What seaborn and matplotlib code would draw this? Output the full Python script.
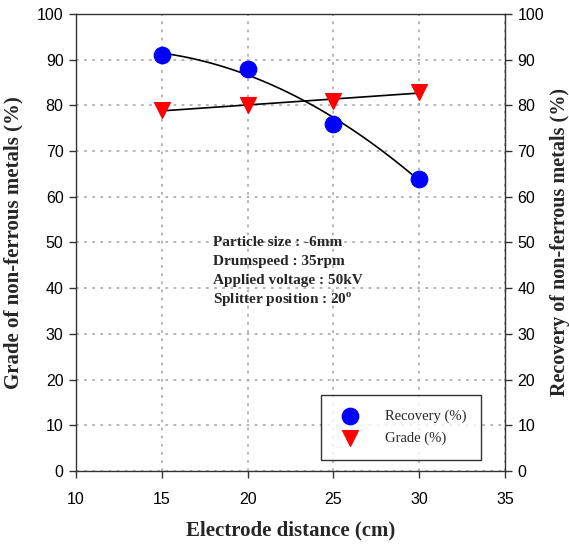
import numpy as np
import pandas as pd
import matplotlib
matplotlib.use("Agg")
import matplotlib.pyplot as plt
import seaborn as sns

distance = [15, 20, 25, 30]
recovery = [91, 88, 76, 64]
grade = [79, 80, 81, 83]
x_ticks = [10, 15, 20, 25, 30, 35]
y_ticks = [0, 10, 20, 30, 40, 50, 60, 70, 80, 90, 100]
conditions = ["Particle size : -6mm", "Drumspeed : 35rpm",
              "Applied voltage : 50kV", "Splitter position : 20$^{\\mathregular{o}}$"]

sns.set_theme(style="white")
plt.rcParams['font.family'] = ['Liberation Sans', 'DejaVu Sans']

df = pd.DataFrame({"distance": distance, "recovery": recovery, "grade": grade})

fig = plt.figure(figsize=(5.69, 5.45), dpi=100)
ax = fig.add_axes([0.1336, 0.1358, 0.8875 - 0.1336, 0.9743 - 0.1358])

# fitted curves
xs = np.linspace(15, 30, 100)
rec_fit = np.polyval(np.polyfit(distance, recovery, 2), xs)
gr_fit = np.polyval(np.polyfit(distance, grade, 1), xs)
sns.lineplot(x=xs, y=rec_fit, ax=ax, color="black", lw=1.2, zorder=2)
sns.lineplot(x=xs, y=gr_fit, ax=ax, color="black", lw=1.2, zorder=2)

sns.scatterplot(data=df, x="distance", y="recovery", ax=ax, marker="o", s=140,
                color="#0000ff", edgecolor="#0000ff", zorder=3, label="Recovery (%)")
sns.scatterplot(data=df, x="distance", y="grade", ax=ax, marker="v", s=130,
                color="#ff0000", edgecolor="#ff0000", zorder=3, label="Grade (%)")

ax.set_xlim(10, 35)
ax.set_ylim(0, 100)
ax.set_xticks(x_ticks)
ax.set_yticks(y_ticks)
ax.grid(True, color="#b0b0b0", linestyle=(0, (1.5, 3)), lw=1.3)
for sp in ax.spines.values():
    sp.set_color("#333333")
    sp.set_linewidth(1.0)
ax.tick_params(axis="both", direction="out", length=5, width=1, colors="#333333",
               labelcolor="black", labelsize=11.5, left=True, bottom=True)
ax.tick_params(axis="x", pad=10)
ax.tick_params(axis="y", pad=4)

serif = ['Liberation Serif', 'DejaVu Serif']
ax.set_xlabel("Electrode distance (cm)", fontsize=15, fontweight="bold", family=serif, labelpad=10)
ax.set_ylabel("Grade of non-ferrous metals (%)", fontsize=15, fontweight="bold", family=serif, labelpad=10)

ax2 = ax.twinx()
ax2.set_ylim(0, 100)
ax2.set_yticks(y_ticks)
ax2.tick_params(direction="out", length=5, width=1, colors="#333333",
                labelcolor="black", labelsize=11.5, right=True, pad=4)
for sp in ax2.spines.values():
    sp.set_visible(False)
ax2.set_ylabel("Recovery of non-ferrous metals (%)", fontsize=14.5, fontweight="bold",
               family=serif, rotation=90, labelpad=4)

for i, t in enumerate(conditions):
    ax.text(18.0, 50.1 - i * 4.2, t, fontsize=11, fontweight="bold", family=serif,
            va="center", ha="left")

leg = ax.legend(loc="lower right", bbox_to_anchor=(0.944, 0.024), borderaxespad=0,
                frameon=True, fancybox=False,
                edgecolor="black", borderpad=1.0, handletextpad=1.4, labelspacing=0.6,
                prop={"family": serif, "size": 10.5})
leg.get_frame().set_linewidth(1.0)

fig.savefig("out.png", dpi=100)
